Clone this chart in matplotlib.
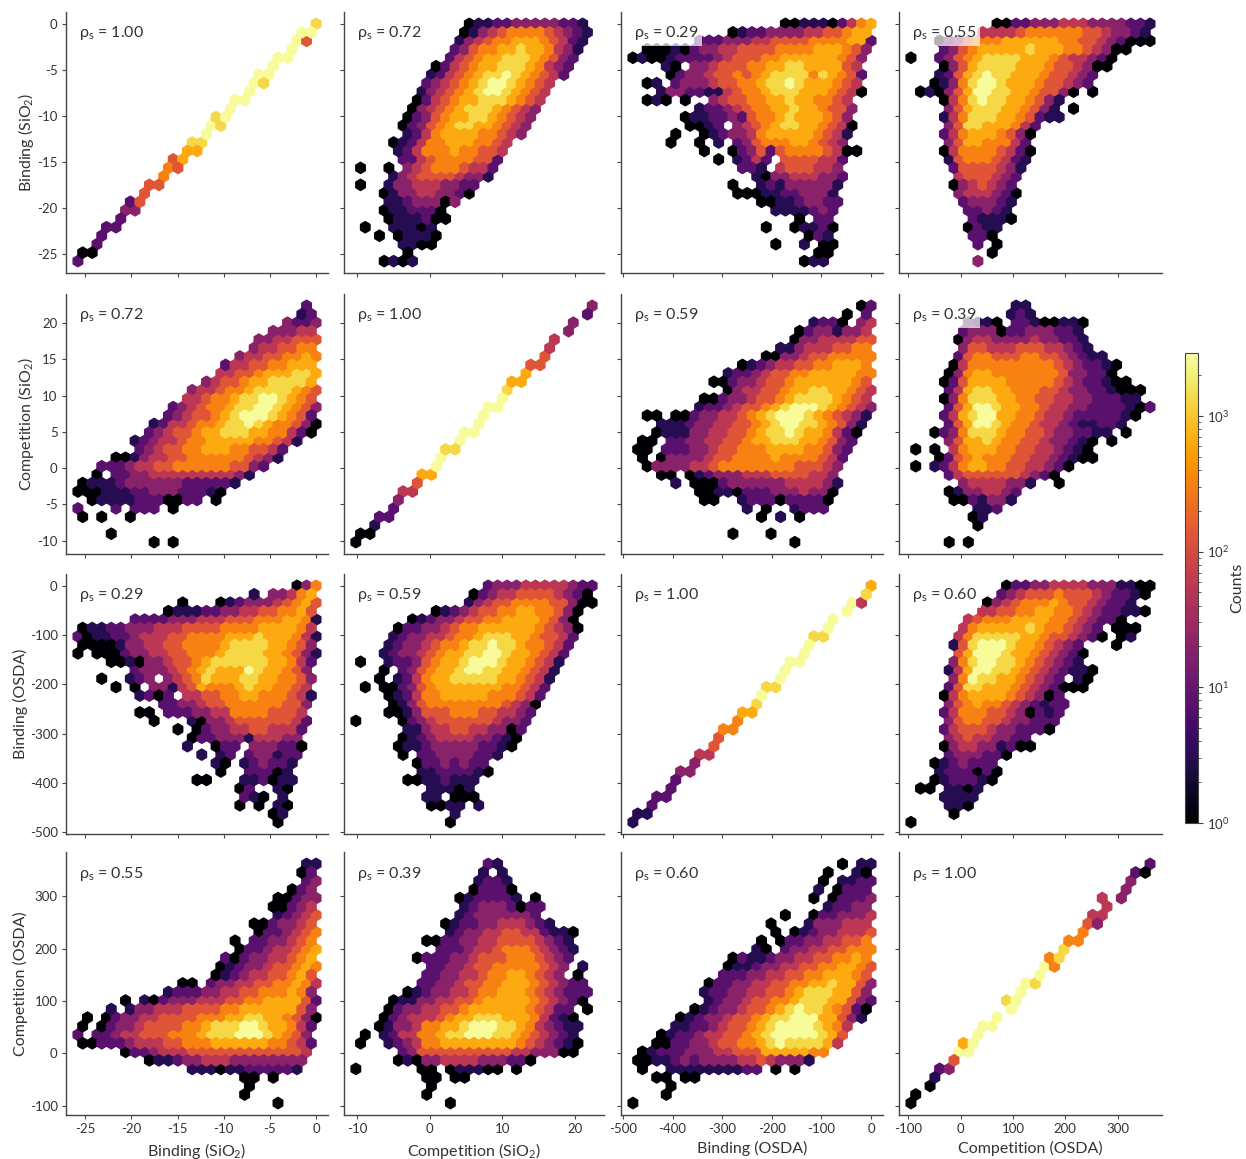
import numpy as np
import matplotlib
matplotlib.use("Agg")
import matplotlib.pyplot as plt
from matplotlib.colors import LogNorm

plt.rcParams['font.family'] = ['Lato', 'Noto Sans', 'DejaVu Sans']
plt.rcParams['mathtext.fontset'] = 'custom'
plt.rcParams['mathtext.rm'] = 'Lato'
plt.rcParams['mathtext.default'] = 'regular'

NAMES = ["Binding (SiO$_2$)", "Competition (SiO$_2$)", "Binding (OSDA)", "Competition (OSDA)"]
LOW = [-25.8, -10.2, -480.0, -95.0]
HIGH = [0.0, 22.4, 0.0, 362.0]
TICKS = [[-25, -20, -15, -10, -5, 0], [-10, 0, 10, 20], [-500, -400, -300, -200, -100, 0], [-100, 0, 100, 200, 300]]
YTICKS = [[-25, -20, -15, -10, -5, 0], [-10, -5, 0, 5, 10, 15, 20], [-500, -400, -300, -200, -100, 0], [-100, 0, 100, 200, 300]]
RHO = [[1.00, 0.72, 0.29, 0.55], [0.72, 1.00, 0.59, 0.39], [0.29, 0.59, 1.00, 0.60], [0.55, 0.39, 0.60, 1.00]]
# colour level of a cell -> bin count
LEVEL_COUNTS = [1, 3, 8, 20, 55, 130, 320, 650, 1300, 2600]

# Each panel: 29 hexagon rows, top to bottom. "start:levels", '.' = empty cell.
P00 = ["25:8","23:99","23:95","22:9","21:99","20:9","19:99","18:98","18:9","16:99","16:9","14:89","14:98","13:9","12:88","11:77","10:57","9:65","9:6","7:55","7:5","5:25","5:33","4:2","3:22","2:2","2:2","0:00","0:2"]
P01 = ["12:0112233333221","11:01345666654321","11:13456677765421","10:23566778776431","10:24567788876532","8:024567788876432","8:124567889876542","7:23456789987654","7:13456789987654","6:02456778887654","6:03456788876543","5:02356778876543","5:02356788776543","5:1246777766543","4:0124667776654","4:124666766554","5:22456666552","0:0..0.3456665442","4:13455554331","0:0..1334443322","3:0133443320","3:11233303","3:0112220","3:0111200","1:0..11101","2:0.01110","5:1100","5:0","3:0101"]
P02 = ["16:0011102467","10:012233334455677","7:2223334455556666772","1:000102334455556666777653","0:0100122223455566777777653","3:10.334555667788777754","4:023345565678888687652","1:01.23334556678898777654","3:1332211456678887776540","1:010.0..345566778776654","7:12234566778776553","5:011223256678777653","6:0012.3456788776540","4:0..0123346777776541","4:0..0.1.235666776543","7:0..02352566665400","9:0.1242.5555442","11:221.4555443","13:1033444332","10:0..121333331","11:00011223331","13:001123322","15:1111232","17:0.22","14:0..01120","18:021","15:0..1.00","19:00","18:011"]
P03 = ["9:00223334443333221","7:444456666665543321","3:02356667777776655432000","3:23567777787776654300","0:0..2356788887776544320","3:035788887776554300","3:12578988777655432","2:01368998777655432","1:01035799887765530.0","3:0468988776531","4:357888776531.0","3:1468887765211","4:3588777642","3:2467776530","4:357766642","3:0466665420","4:156665421","4:25555431","5:4555432","4:0345432","5:3444320","5:233321","6:22321","6:21110","6:0211","6:220","7:2.0","8:0","7:3"]
P10 = ["24:2","23:12","22:3223","20:33344","19:3344555","18:3445566","17:344556676","15:2445566777","15:44556777887","13:345567788887","12:34456678888765","11:44566788998765","10:2345667889987653","9:2345567899987652","8:124456678898766530","7:234556778887766420","6:123445667777766541","6:2345566777665542","4:001344556666665431","2:222344556666665532","2:0.223344444444431","0:01112333333222221","0:0001112233322210","1:011112220022.0","0:2...2.222.0","0:0.0..0","","3:0","8:0.0"]
P11 = ["25:3","24:2","23:3","22:3","21:4","20:4","20:5","18:55","18:7","16:77","16:8","15:9","14:99","13:9","13:9","11:99","11:9","9:88","9:9","8:9","7:77","6:5","5:44","4:3","4:2","2:22","2:1","0:00","0:0"]
P12 = ["24:02","22:0.2","19:1220.34","17:02331334","17:033444455","15:1134445566","14:003345566666","11:01234455667776","10:1223455667777766","8:00233455677777765","10:0344556778877654","7:002334556788887654","7:1223455678999876543","1:00.002334456789998765431","3:1112334455678998876531","2:0111334455678898776420","1:00.22334455677888776532","0:00.22233455666777766532","1:0.03333455666676666542","1:033334456666666655543","3:00.0123334445555443","4:1.0002333333444431","7:001102223334330","7:00..1222022220","12:1.0..1222","13:0.1.0","","10:0...0","17:0"]
P13 = ["11:11","10:121","6:2110.22100110","5:2333022333221","5:03443333433221","5:35544455544321","5:2566555665543211","4:046666666665432210","4:036776666666533220","3:02577776666654322100","4:247887766655433221000","3:036888776655443322211","4:2579987766544332222102","3:247899776654432222210","4:2579987665443211221","2:0236888766554332211.0","4:3577876655433210.0","0:0.0.467776655443210","3:02567666554432100","0:0.124677665544320","4:245555554320","5:34444331..0","4:01334432","4:0021331","7:112","6:01","7:0","","4:0.0"]
P20 = ["23:036","18:1.33467","11:0...01233345675","9:0111223344556675","6:22223334445556667761","0:0112233344455556666777764","0:20112234445566667778777641","0:0000133445566667888877653","0:0.000233445566678888776531","3:0010334556788888877642","6:2333456787779877653","2:0..123.3456877788776653","4:0.0.33145766678776654","6:1202.44556677666541","9:2233455666666553","6:00.222334466665554","8:0...1033455555542","10:0.023344554442","12:022333144433","11:1..022.333220","13:1.12.233122","14:10.123221","15:0..22201","12:00...112011","17:02..10","17:210.1","17:0.0.10","20:01","21:0"]
P21 = ["14:233344444322","12:0234455554320","12:13455666655300","8:0123455667766530","6:012334556677776530","4:02233456677777765430","4:12334456678887765542","3:12334566788988766542","3:12334567788998776542","0:0..1223567789998776541","3:0.23567789988776541","2:0.12467788888776541","1:0.002356777777766542","3:01246677777666542","4:0135666666665430","3:0013555666554432","0:0....02345555554332","5:1134455443302","5:0123444433210","4:0112333332210","5:0.223333221","6:02232322","7:11222210","5:00112111","8:11101","7:11.000","8:0011.1","10:1","10:0"]
P22 = ["25:7","24:8","23:94","22:9","21:9","20:9","19:88","18:9","18:9","16:99","16:9","15:9","14:88","13:9","13:8","11:77","11:6","9:66","9:5","8:5","7:44","6:3","5:33","4:2","4:2","2:22","2:2","0:11","0:1"]
P23 = ["10:0223344443331100","9:2345556555432210","8:0345666765543221","7:445566776654322110","6:45666777766543220","5:467777787665432.000","5:4688888776554320.01","4:15899987765432...0","5:57999877654320","4:36899887654321","4:1479988765432110","4:369887765432.10","4:258877765432000","3:0467777654302","4:3567665432122","3:2466655430212","4:356655433222","3:245554332220","4:345443322","3:0344331200","4:2333220","2:0123222","3:1222020","2:0122210","1:00.1101","3:1111","4:110","4:0","0:0"]
P30 = ["24:11","23:02","24:23","22:023","21:00233","20:00234","21:12345","18:0023345","19:0223456","16:0.2233456","17:022344567","15:2023344567","15:01233455676","14:01234455675","11:00.233445566764","9:1222334455666763","5:0.1023334445566777752","3:1.13344455556677777753","1:0.02334455556667788776530","0:0.02334555566788899877642","0:2.22344555666788899987653","0:0022234445566677777766542","5:02234445555555555554","7:01123344433333333","12:111011222221","17:00.0","18:0","17:0","21:0"]
P31 = ["14:21","13:1.1","13:1221","12:02220","11:0122221.0","11:123332022","11:123333332","9:012233444321","10:12334455442110","7:0022334455554321","9:222344566654321","6:02223345556665432","8:223345566666543.1","7:223344566776543.0","7:223345566777654322","5:01233445667776543222","4:011334455677777654320","3:02334455677777765422.0","3:023444567788877764210","2:0133466778999887643211","1:0.124466788999887654321","0:0..123466777777776543210","5:2355555555554433300","4:010334444333220","0:0......00.011100.0","7:00.00","8:0","7:0","10:0"]
P32 = ["22:0.11","20:0..10","20:0.1122","19:1.0222","19:0.02223","20:12233","16:0..0223334","14:0...1333444","15:0.012334445","13:0.0223344556","13:10.2334455666","10:021123344556676","10:0112334455667765","9:2223344556677765","8:022334455667787753","7:122334455678887753","8:123345566788877532","6:0123345567898876520","5:01233455678899977531","4:1122345567899998764","3:01223445567899999875","2:00223345566789888874","1:01222333445557777766","0:0011232333344543331","1:0..1111111122.0.0","2:00.00","4:0","3:0","0:0"]
P33 = ["25:2","23:20","23:3","22:3","20:4.3","20:4","19:44","18:53","18:6","16:66","16:8","14:68","14:96","13:9","12:98","11:9","10:89","10:9","9:9","7:99","7:9","5:79","5:99","4:5","3:23","2:1","2:0","0:0","0:0"]

PANELS = [[P00, P01, P02, P03], [P10, P11, P12, P13], [P20, P21, P22, P23], [P30, P31, P32, P33]]

W, H = 1246, 1159
COL_PX = [(66, 328), (344, 604), (621, 883), (899, 1162)]
ROW_PX = [(12, 273), (294, 554), (574, 834), (852, 1115)]
GRID = 25
NY = int(GRID / np.sqrt(3))


def cells(rows, xr, yr):
    sx = (xr[1] - xr[0]) / GRID
    sy = (yr[1] - yr[0]) / NY
    xs, ys, cs = [], [], []
    for line, row in enumerate(rows):
        if not row:
            continue
        start, levels = row.split(":")
        shift = 0.0 if line % 2 == 0 else 0.5
        for k, ch in enumerate(levels):
            if ch == ".":
                continue
            xs.append(xr[0] + (int(start) + k + shift) * sx)
            ys.append(yr[1] - line * sy / 2)
            cs.append(LEVEL_COUNTS[int(ch)])
    return np.array(xs), np.array(ys), np.array(cs, dtype=float)


fig = plt.figure(figsize=(W / 100, H / 100), dpi=100)
norm = LogNorm(vmin=1, vmax=2900)
GRAY = "#444444"
mappable = None
for r in range(4):
    for c in range(4):
        x0, x1 = COL_PX[c]
        y0, y1 = ROW_PX[r]
        ax = fig.add_axes([x0 / W, 1 - y1 / H, (x1 - x0) / W, (y1 - y0) / H])
        xr = (LOW[c], HIGH[c])
        yr = (LOW[r], HIGH[r])
        xs, ys, cs = cells(PANELS[r][c], xr, yr)
        mappable = ax.hexbin(xs, ys, C=cs, reduce_C_function=np.sum, gridsize=GRID,
                             extent=(xr[0], xr[1], yr[0], yr[1]), cmap="inferno", norm=norm,
                             linewidths=1.0, edgecolors="face")
        mx = 0.05 * (xr[1] - xr[0])
        my = 0.05 * (yr[1] - yr[0])
        ax.set_xlim(xr[0] - mx, xr[1] + mx)
        ax.set_ylim(yr[0] - my, yr[1] + my)
        for s in ("top", "right"):
            ax.spines[s].set_visible(False)
        for s in ("left", "bottom"):
            ax.spines[s].set_linewidth(1.0)
            ax.spines[s].set_color(GRAY)
        ax.set_xticks(TICKS[c])
        ax.set_yticks(YTICKS[r])
        ax.tick_params(length=3, width=0.8, color=GRAY, labelsize=9.5, labelcolor="#333333", pad=3)
        if r == 3:
            ax.set_xticklabels([str(t) for t in TICKS[c]])
            ax.set_xlabel(NAMES[c], fontsize=11.5, color="#333333", va="top")
            ax.xaxis.set_label_coords(0.5, -0.098)
        else:
            ax.set_xticklabels([])
        if c == 0:
            ax.set_yticklabels([str(t) for t in YTICKS[r]])
            ax.set_ylabel(NAMES[r], fontsize=11.5, color="#333333", labelpad=1)
        else:
            ax.set_yticklabels([])
        ax.text(0.05, 0.918, f"ρ$_{{s}}$ = {RHO[r][c]:.2f}", transform=ax.transAxes, fontsize=11.5,
                color="#333333", va="center", ha="left", zorder=5,
                bbox=dict(facecolor="white", edgecolor="none", alpha=0.7, pad=2.5))

cax = fig.add_axes([1185 / W, 1 - 823 / H, 12.5 / W, 470 / H])
cb = fig.colorbar(mappable, cax=cax)
cb.outline.set_linewidth(0.8)
cb.outline.set_edgecolor(GRAY)
cb.ax.tick_params(which="major", length=3.5, width=0.8, color=GRAY, labelsize=9.5, labelcolor="#333333", pad=3)
cb.ax.tick_params(which="minor", length=2, width=0.6, color=GRAY)
cb.set_label("Counts", fontsize=11.5, color="#333333")
cb.ax.yaxis.set_label_coords(3.6, 0.5)

fig.savefig("out.png", dpi=100)
